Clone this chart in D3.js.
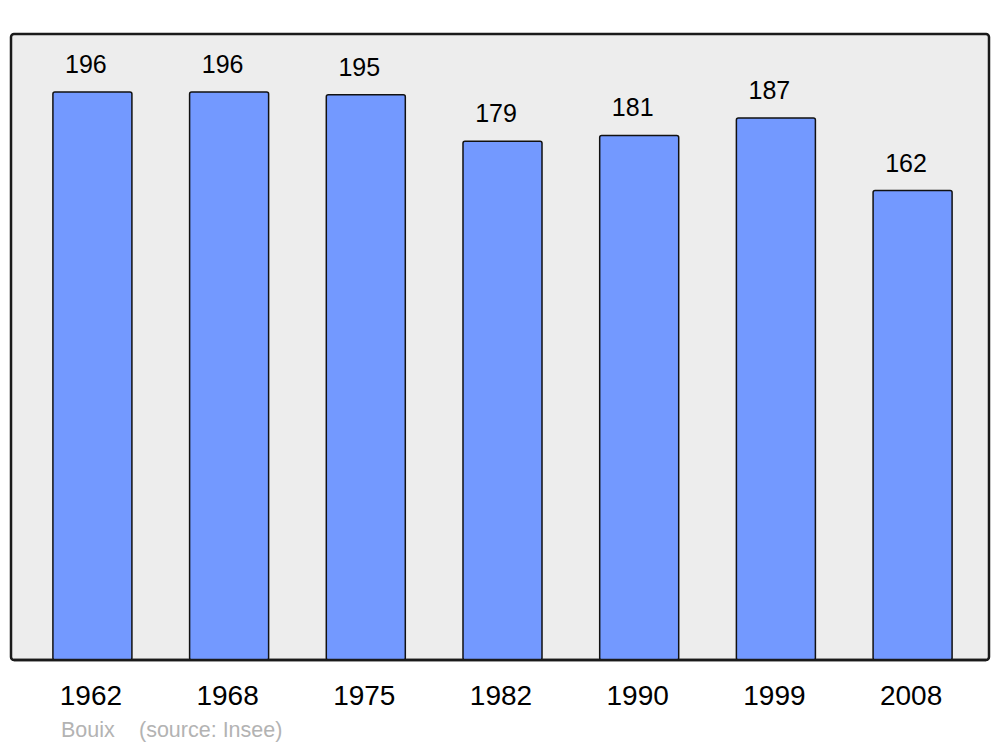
<!DOCTYPE html>
<html>
<head>
<meta charset="utf-8">
<script src="https://cdn.jsdelivr.net/npm/d3@7"></script>
<style>
  body { margin: 0; background: white; }
  text { font-family: "Liberation Sans", Arial, sans-serif; }
</style>
</head>
<body>
<div id="chart"></div>
<script>
// population chart, Bouix
var years = ["1962", "1968", "1975", "1982", "1990", "1999", "2008"];
var population = [196, 196, 195, 179, 181, 187, 162];
var commune = "Bouix";
var source = "(source: Insee)";

var svg = d3.select("#chart").append("svg").attr("width", 1000).attr("height", 747);

var x = d3.scaleBand().domain(years).range([16, 989]).paddingInner(0.422).paddingOuter(0.27);
var y = d3.scaleLinear().domain([0, 216]).range([660, 34]);

// panel
svg.append("rect").attr("x", 11).attr("y", 34).attr("width", 978).attr("height", 626)
  .attr("rx", 3).attr("fill", "#ededed").attr("stroke", "#1a1a1a").attr("stroke-width", 2.5);

svg.selectAll("rect.bar").data(population).enter().append("rect")
  .attr("class", "bar")
  .attr("x", function(d, i){ return x(years[i]); })
  .attr("y", function(d){ return y(d); })
  .attr("width", x.bandwidth())
  .attr("height", function(d){ return y(0) - y(d); })
  .attr("rx", 2)
  .attr("fill", "#7399ff").attr("stroke", "#111").attr("stroke-width", 1.5);

// redraw bottom edge of panel over bars
svg.append("line").attr("x1", 14).attr("x2", 986).attr("y1", 660).attr("y2", 660)
  .attr("stroke", "#1a1a1a").attr("stroke-width", 2.5);

svg.selectAll("text.val").data(population).enter().append("text")
  .attr("class", "val")
  .attr("x", function(d, i){ return x(years[i]) + x.bandwidth() / 2 - 6.5; })
  .attr("y", function(d){ return y(d) - 19; })
  .attr("text-anchor", "middle").style("font-size", "25px").style("fill", "#000")
  .text(function(d){ return d; });

svg.selectAll("text.year").data(years).enter().append("text")
  .attr("class", "year")
  .attr("x", function(d){ return x(d) + x.bandwidth() / 2 - 1.5; })
  .attr("y", 705)
  .attr("text-anchor", "middle").style("font-size", "28px").style("fill", "#000")
  .text(function(d){ return d; });

svg.append("text").attr("x", 61).attr("y", 737).style("font-size", "21.5px").style("fill", "#b3b3b3").text(commune);
svg.append("text").attr("x", 139).attr("y", 737).style("font-size", "21.5px").style("fill", "#b3b3b3").text(source);
</script>
</body>
</html>
